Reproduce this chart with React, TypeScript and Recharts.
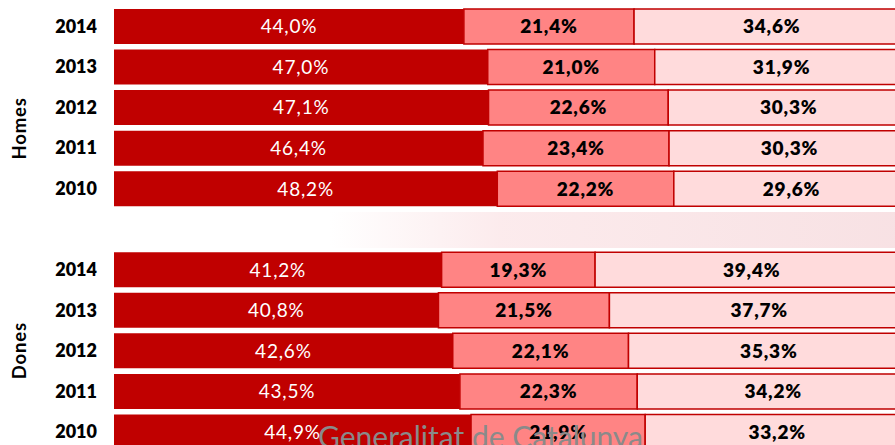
import React from 'react';
import { BarChart, Bar, XAxis, YAxis, LabelList } from 'recharts';

const years = ['2014', '2013', '2012', '2011', '2010'];
const homesA = [44.0, 47.0, 47.1, 46.4, 48.2];
const homesB = [21.4, 21.0, 22.6, 23.4, 22.2];
const homesC = [34.6, 31.9, 30.3, 30.3, 29.6];
const donesA = [41.2, 40.8, 42.6, 43.5, 44.9];
const donesB = [19.3, 21.5, 22.1, 22.3, 21.9];
const donesC = [39.4, 37.7, 35.3, 34.2, 33.2];
const groups = ['Homes', 'Dones'];
const watermark = 'Generalitat de Catalunya';

const data = [
  ...years.map((y, i) => ({ id: 'H' + y, year: y, group: groups[0], a: homesA[i], b: homesB[i], c: homesC[i] })),
  { id: 'gap', year: '', group: '', a: null, b: null, c: null },
  ...years.map((y, i) => ({ id: 'D' + y, year: y, group: groups[1], a: donesA[i], b: donesB[i], c: donesC[i] })),
];

const FONT = 'Lato, "Open Sans", sans-serif';
const fmt = (v: number) => v.toFixed(1).replace('.', ',') + '%';

const YearTick = (props: any) => {
  const { y, payload } = props;
  const row = data.find((d) => d.id === payload.value);
  if (!row || !row.year) return null;
  const groupLabel =
    row.year === '2012' ? (
      <text
        x={0}
        y={0}
        transform={`translate(26, ${y + (row.group === 'Homes' ? 21 : 0)}) rotate(-90)`}
        textAnchor="middle"
        fontFamily={FONT}
        fontWeight={700}
        fontSize={18.5}
        letterSpacing={0.8}
        fill="#000"
      >
        {row.group}
      </text>
    ) : null;
  return (
    <g>
      {groupLabel}
      <text x={97} y={y} dy="0.36em" textAnchor="end" fontFamily={FONT} fontWeight={800} fontSize={18} fill="#000">
        {row.year}
      </text>
    </g>
  );
};

const makeLabel = (color: string, weight: number) => (props: any) => {
  const { x, y, width, height, value } = props;
  if (value == null) return null;
  return (
    <text
      x={x + width / 2}
      y={y + height / 2}
      dy="0.36em"
      textAnchor="middle"
      fontFamily={FONT}
      fontWeight={weight}
      fontSize={19}
      letterSpacing={0.8}
      fill={color}
    >
      {fmt(value)}
    </text>
  );
};

export default function App() {
  return (
    <div style={{ position: 'absolute', left: 0, top: 0, width: 895, height: 445, overflow: 'hidden', background: '#fff' }}>
      <svg width={895} height={445} style={{ position: 'absolute', left: 0, top: 0 }}>
        <defs>
          <linearGradient id="bgPink" x1="0" y1="0" x2="1" y2="0">
            <stop offset="0" stopColor="#ffffff" />
            <stop offset="0.3" stopColor="#fbe6e8" />
            <stop offset="1" stopColor="#f6dadd" />
          </linearGradient>
        </defs>
        <rect x={330} y={212} width={565} height={36} fill="url(#bgPink)" opacity={0.8} />
      </svg>
      <div style={{ position: 'absolute', left: 0, top: 0 }}>
        <BarChart
          width={910}
          height={452}
          data={data}
          layout="vertical"
          margin={{ top: 6, right: 0, bottom: 0, left: 0 }}
          barSize={35}
        >
          <XAxis type="number" domain={[0, 100]} hide />
          <YAxis
            type="category"
            dataKey="id"
            width={114}
            axisLine={false}
            tickLine={false}
            tick={<YearTick />}
            interval={0}
          />
          <Bar dataKey="a" stackId="s" fill="#C00000" isAnimationActive={false}>
            <LabelList dataKey="a" content={makeLabel('#ffffff', 400)} />
          </Bar>
          <Bar dataKey="b" stackId="s" fill="#FF8484" stroke="#C00000" strokeWidth={1.5} isAnimationActive={false}>
            <LabelList dataKey="b" content={makeLabel('#000000', 800)} />
          </Bar>
          <Bar dataKey="c" stackId="s" fill="#FFDBDC" stroke="#C00000" strokeWidth={1.5} isAnimationActive={false}>
            <LabelList dataKey="c" content={makeLabel('#000000', 800)} />
          </Bar>
        </BarChart>
      </div>
      <svg width={895} height={445} style={{ position: 'absolute', left: 0, top: 0, pointerEvents: 'none' }}>
        <text x={318} y={448} fontFamily={FONT} fontSize={30} fill="#8a8a8a">
          {watermark}
        </text>
      </svg>
    </div>
  );
}
